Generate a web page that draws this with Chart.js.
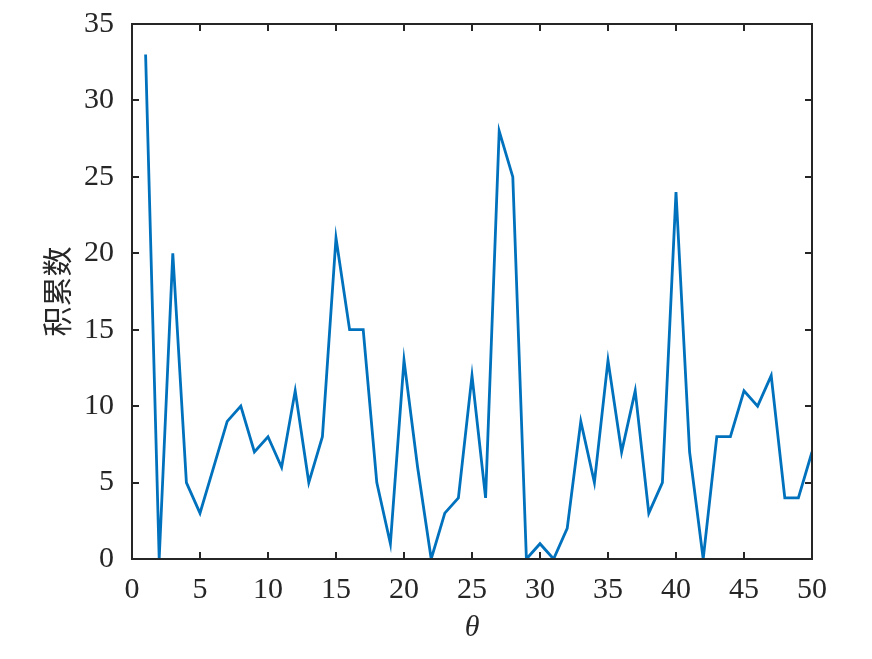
<!DOCTYPE html>
<html>
<head>
<meta charset="utf-8">
<script src="https://cdn.jsdelivr.net/npm/chart.js@4/dist/chart.umd.min.js"></script>
<style>
  html, body { margin: 0; padding: 0; background: #fff; }
  #c { display: block; }
</style>
</head>
<body>
<canvas id="c" width="872" height="659"></canvas>
<script>
// ── Datos ────────────────────────────────────────────
const THETA = [1,2,3,4,5,6,7,8,9,10,11,12,13,14,15,16,17,18,19,20,21,22,23,24,25,
  26,27,28,29,30,31,32,33,34,35,36,37,38,39,40,41,42,43,44,45,46,47,48,49,50];
const COUNTS = [33,0,20,5,3,6,9,10,7,8,6,11,5,8,21,15,15,5,1,13,6,0,3,4,12,
  4,28,25,0,1,0,2,9,5,13,7,11,3,5,24,7,0,8,8,11,10,12,4,4,7];
const X_TICKS = [0,5,10,15,20,25,30,35,40,45,50];
const Y_TICKS = [0,5,10,15,20,25,30,35];
const X_TITLE = 'θ';
const Y_TITLE = '积累数';

const AX = '#262626';
const SERIF = "'Liberation Serif', 'DejaVu Serif', serif";

// Caja tipo MATLAB con ticks hacia dentro en los cuatro lados
const boxTicks = {
  id: 'boxTicks',
  afterDraw(chart) {
    const { ctx, chartArea: a, scales: { x, y } } = chart;
    const L = 7;
    ctx.save();
    ctx.strokeStyle = AX;
    ctx.lineWidth = 2;
    ctx.beginPath();
    X_TICKS.forEach(v => {
      const px = Math.round(x.getPixelForValue(v));
      ctx.moveTo(px, a.bottom); ctx.lineTo(px, a.bottom - L);
      ctx.moveTo(px, a.top); ctx.lineTo(px, a.top + L);
    });
    Y_TICKS.forEach(v => {
      const py = Math.round(y.getPixelForValue(v));
      ctx.moveTo(a.left, py); ctx.lineTo(a.left + L, py);
      ctx.moveTo(a.right, py); ctx.lineTo(a.right - L, py);
    });
    ctx.stroke();
    ctx.strokeRect(a.left, a.top, a.right - a.left, a.bottom - a.top);
    ctx.restore();
  }
};

new Chart(document.getElementById('c').getContext('2d'), {
  type: 'line',
  data: {
    datasets: [{
      data: THETA.map((t, i) => ({ x: t, y: COUNTS[i] })),
      borderColor: 'rgb(0,114,189)', borderWidth: 2.8,
      pointRadius: 0, tension: 0, fill: false
    }]
  },
  options: {
    responsive: false, devicePixelRatio: 1, animation: false,
    layout: { padding: { left: 0, right: 60, top: 24, bottom: 0 } },
    plugins: { legend: { display: false }, tooltip: { enabled: false } },
    scales: {
      x: {
        type: 'linear', min: 0, max: 50,
        afterBuildTicks: s => { s.ticks = X_TICKS.map(v => ({ value: v })); },
        afterFit: s => { s.height = 100; s.paddingLeft = 0; s.paddingRight = 0; },
        grid: { display: false, drawTicks: false },
        border: { display: false },
        ticks: { color: AX, padding: 13, maxRotation: 0, font: { family: SERIF, size: 30 } },
        title: { display: true, text: X_TITLE, color: AX, padding: { top: 0, bottom: 13 },
          font: { family: SERIF, size: 30, style: 'italic' } }
      },
      y: {
        min: 0, max: 35,
        afterBuildTicks: s => { s.ticks = Y_TICKS.map(v => ({ value: v })); },
        afterFit: s => { s.width = 132; s.paddingTop = 0; s.paddingBottom = 0; },
        grid: { display: false, drawTicks: false },
        border: { display: false },
        ticks: { color: AX, padding: 18, font: { family: SERIF, size: 30 } },
        title: { display: true, text: Y_TITLE, color: AX, padding: { top: 39, bottom: 0 },
          font: { family: "'Noto Sans CJK SC', sans-serif", size: 30 } }
      }
    }
  },
  plugins: [boxTicks]
});
</script>
</body>
</html>
